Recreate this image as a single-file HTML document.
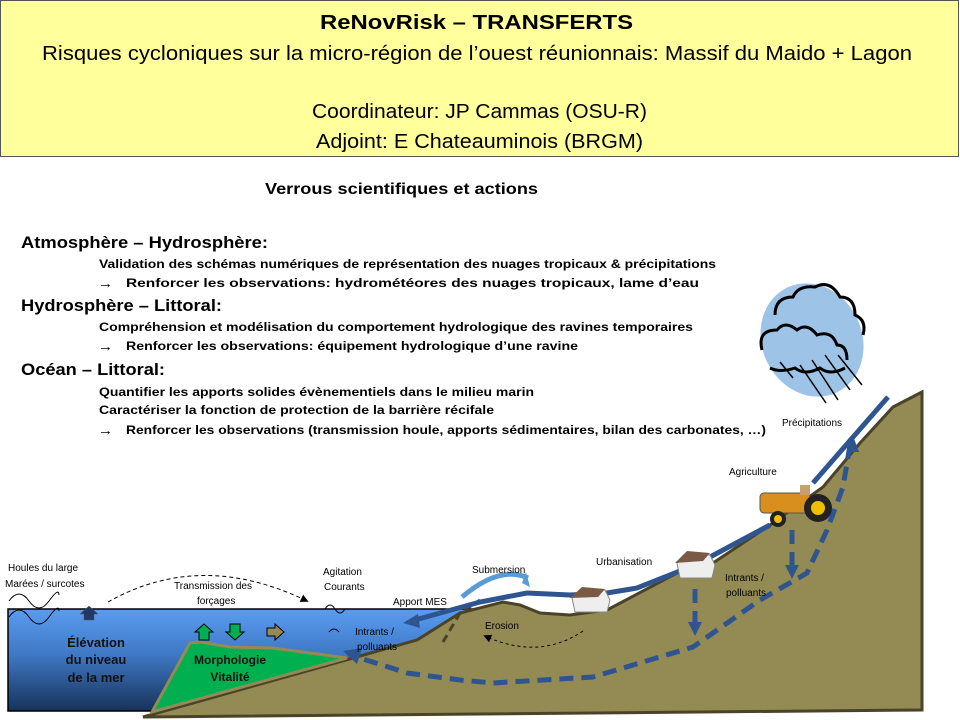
<!DOCTYPE html>
<html><head><meta charset="utf-8"><style>
html,body{margin:0;padding:0;background:#fff;}
svg{display:block;font-family:"Liberation Sans",sans-serif;}
</style></head><body>
<svg width="960" height="720" viewBox="0 0 960 720" xmlns="http://www.w3.org/2000/svg">
<defs>
<linearGradient id="sea" x1="0" y1="0" x2="0" y2="1">
<stop offset="0" stop-color="#5a9cf2"/><stop offset="0.45" stop-color="#3f78c4"/><stop offset="1" stop-color="#17325a"/>
</linearGradient>
<marker id="ah" markerWidth="8" markerHeight="8" refX="4" refY="4" orient="auto" markerUnits="userSpaceOnUse"><path d="M0,0 L8,4 L0,8z" fill="#000"/></marker>
</defs>
<rect x="0.5" y="0.5" width="958" height="156" fill="#ffff9c" stroke="#555"/>
<g font-size="20" text-anchor="start" fill="#000">
<text x="320" y="29" font-weight="bold" textLength="313" lengthAdjust="spacingAndGlyphs">ReNovRisk – TRANSFERTS</text>
<text x="42" y="60" textLength="870" lengthAdjust="spacingAndGlyphs">Risques cycloniques sur la micro-région de l’ouest réunionnais:  Massif du  Maido + Lagon</text>
<text x="312" y="118" textLength="335" lengthAdjust="spacingAndGlyphs">Coordinateur:  JP Cammas (OSU-R)</text>
<text x="316" y="148" textLength="327" lengthAdjust="spacingAndGlyphs">Adjoint: E Chateauminois (BRGM)</text>
</g>
<g font-weight="bold" fill="#000">
<text x="265" y="194" font-size="16" textLength="273" lengthAdjust="spacingAndGlyphs">Verrous scientifiques et actions</text>
<text x="21" y="248" font-size="17" textLength="247" lengthAdjust="spacingAndGlyphs">Atmosphère  – Hydrosphère:</text>
<text x="99" y="268" font-size="12" textLength="617" lengthAdjust="spacingAndGlyphs">Validation des schémas numériques de représentation des nuages tropicaux &amp; précipitations</text>
<text x="98" y="288" font-size="15">→</text>
<text x="126" y="287" font-size="12" textLength="573" lengthAdjust="spacingAndGlyphs">Renforcer les observations: hydrométéores des nuages tropicaux, lame d’eau</text>
<text x="21" y="311" font-size="17" textLength="201" lengthAdjust="spacingAndGlyphs">Hydrosphère  – Littoral:</text>
<text x="99" y="331" font-size="12" textLength="594" lengthAdjust="spacingAndGlyphs">Compréhension et modélisation du comportement hydrologique des ravines temporaires</text>
<text x="98" y="351" font-size="15">→</text>
<text x="126" y="350" font-size="12" textLength="452" lengthAdjust="spacingAndGlyphs">Renforcer les observations: équipement hydrologique d’une ravine</text>
<text x="21" y="375" font-size="17" textLength="144" lengthAdjust="spacingAndGlyphs">Océan  – Littoral:</text>
<text x="99" y="396" font-size="12" textLength="435" lengthAdjust="spacingAndGlyphs">Quantifier les apports solides évènementiels dans le milieu marin</text>
<text x="99" y="414" font-size="12" textLength="395" lengthAdjust="spacingAndGlyphs">Caractériser la fonction de protection de la barrière récifale</text>
<text x="98" y="435" font-size="15">→</text>
<text x="126" y="434" font-size="12" textLength="640" lengthAdjust="spacingAndGlyphs">Renforcer les observations  (transmission houle, apports sédimentaires, bilan des carbonates, …)</text>
</g>
<rect x="8" y="609" width="467" height="102" fill="url(#sea)" stroke="#000" stroke-width="1.5"/>
<path d="M143,717 L353,658 L417,640 L460,613 L503,602 L520,605 L540,613 L570,615 L607,610 L677,573 L713,563 L770,525 L823,487 L860,443 L893,407 L922,392 L922,710 Z" fill="#948a54" stroke="#4a4328" stroke-width="3"/>
<path d="M152,712 L190,643 L200,642 L230,647 L273,648 L347,658 Z" fill="#00b050" stroke="#948a54" stroke-width="3"/>
<g fill="none" stroke="#000" stroke-width="1">
<path d="M9,601 q10,-14 20,0 t20,0 t10,-6"/><path d="M9,617 q10,-14 20,0 t20,0 t10,-6"/>
<path d="M325,609 q5,-8 10,0 t10,0"/><path d="M329,632 q5,-6 10,0"/>
</g>
<path d="M84,620 L84,614 L80,614 L89,606 L98,614 L94,614 L94,620 Z" fill="#1f3864" stroke="#555" stroke-width="0.5"/>
<path d="M199,640 L199,632 L195,632 L204,624 L213,632 L209,632 L209,640 Z" fill="#00b050" stroke="#000"/>
<path d="M230,624 L240,624 L240,632 L244,632 L235,640 L226,632 L230,632 Z" fill="#00b050" stroke="#000"/>
<path d="M267,628 L275,628 L275,624 L284,632 L275,640 L275,636 L267,636 Z" fill="#948a54" stroke="#000"/>
<path d="M108,602 Q200,550 305,600" fill="none" stroke="#000" stroke-width="1" stroke-dasharray="4,3" marker-end="url(#ah)"/>
<path d="M583,631 Q540,660 487,637" fill="none" stroke="#000" stroke-width="1" stroke-dasharray="3,3" marker-end="url(#ah)"/>
<path d="M443,642 L460,613 L480,600" fill="none" stroke="#4a4328" stroke-width="3" stroke-dasharray="8,5"/>
<path d="M888,397 L813,483" stroke="#2e5590" stroke-width="5" fill="none"/>
<path d="M770,525 L710,557 L675,573 L637,588 L607,593 L570,595 L527,593 L480,602 L415,620" stroke="#2e5590" stroke-width="5" fill="none"/>
<path d="M403,623 L418,614 L420,628 Z" fill="#2e5590"/>
<path d="M462,597 Q500,565 528,578" fill="none" stroke="#5b9bd5" stroke-width="5"/>
<path d="M526,572 L530,587 L522,583 Z" fill="#5b9bd5"/>
<path d="M850,445 L843,487 L827,530 L807,573 L760,600 L693,647 L593,677 L493,683 L460,680 L407,673 L360,658" fill="none" stroke="#2e5590" stroke-width="5" stroke-dasharray="14,8"/>
<path d="M343,651 L362,648 L357,664 Z" fill="#2e5590"/>
<path d="M853,436 L847,452 L859,452 Z" fill="#2e5590"/>
<path d="M695,589 L695,624" stroke="#2e5590" stroke-width="5" stroke-dasharray="14,8"/>
<path d="M688,622 L702,622 L695,636 Z" fill="#2e5590"/>
<path d="M792,530 L792,568" stroke="#2e5590" stroke-width="5" stroke-dasharray="14,8"/>
<path d="M785,565 L799,565 L792,579 Z" fill="#2e5590"/>
<g><path d="M572,598 L582,588 L605,590 L610,600 L607,612 L575,612 Z" fill="#eee" stroke="#888"/><path d="M570,598 L582,587 L605,589 L598,597 Z" fill="#7a5a44"/></g>
<g><path d="M677,563 L687,553 L710,555 L715,565 L712,578 L680,578 Z" fill="#eee" stroke="#888"/><path d="M675,563 L687,551 L710,553 L703,561 Z" fill="#7a5a44"/></g>
<g><rect x="760" y="493" width="50" height="20" rx="4" fill="#d98f1e" stroke="#555"/><circle cx="818" cy="508" r="14" fill="#222"/><circle cx="818" cy="508" r="7" fill="#f0c000"/><circle cx="778" cy="519" r="8" fill="#222"/><circle cx="778" cy="519" r="4" fill="#f0c000"/><rect x="800" y="485" width="10" height="10" fill="#c8a070"/></g>
<g><ellipse cx="812" cy="340" rx="50" ry="58" transform="rotate(-25 812 340)" fill="#9dc3e6"/>
<g fill="none" stroke="#000" stroke-width="3"><path d="M775,315 q0,-18 18,-18 q5,-12 22,-10 q15,-8 25,10 q15,0 15,18 q12,5 8,20"/><path d="M762,350 q-5,-20 15,-20 q8,-10 20,0 q10,-8 20,5 q15,-5 20,10 q10,0 10,15"/><path d="M770,368 q10,5 25,0 q10,8 25,0 q10,8 25,0"/></g>
<g stroke="#000" stroke-width="1.5"><path d="M780,362 L793,378"/><path d="M800,365 L826,403"/><path d="M812,360 L838,400"/><path d="M825,355 L850,390"/><path d="M838,355 L862,385"/></g></g>
<g font-size="10" fill="#000">
<text x="8" y="571">Houles du large</text>
<text x="5" y="587">Marées / surcotes</text>
<text x="174" y="589">Transmission des</text>
<text x="197" y="604">forçages</text>
<text x="323" y="575">Agitation</text>
<text x="324" y="590">Courants</text>
<text x="393" y="605">Apport  MES</text>
<text x="355" y="635">Intrants  /</text>
<text x="357" y="650">polluants</text>
<text x="472" y="573">Submersion</text>
<text x="596" y="565">Urbanisation</text>
<text x="485" y="629">Erosion</text>
<text x="725" y="581">Intrants  /</text>
<text x="726" y="596">polluants</text>
<text x="729" y="475">Agriculture</text>
<text x="782" y="426">Précipitations</text>
</g>
<g font-weight="bold" fill="#111" font-size="13" text-anchor="middle">
<text x="96" y="647">Élévation</text><text x="96" y="664">du niveau</text><text x="96" y="682">de la mer</text>
</g>
<g font-weight="bold" fill="#111" font-size="12" text-anchor="middle">
<text x="230" y="664">Morphologie</text><text x="230" y="681">Vitalité</text>
</g>
</svg>
</body></html>
